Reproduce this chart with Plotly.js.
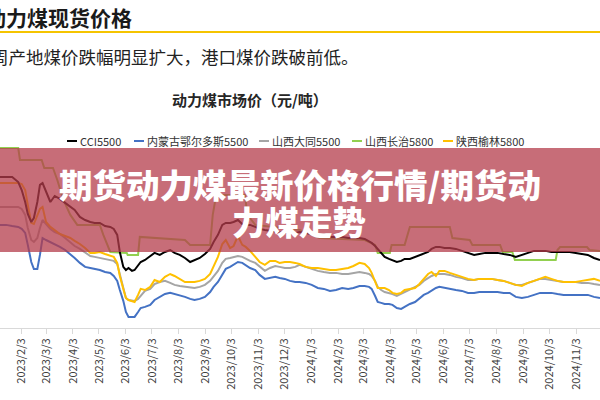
<!DOCTYPE html>
<html><head><meta charset="utf-8">
<script src="https://cdn.plot.ly/plotly-3.0.1.min.js"></script>
<style>html,body{margin:0;padding:0;background:#fff;} #chart{width:600px;height:400px;}</style>
</head><body><div id="chart"></div>
<script>
const seriesNames = ['CCI5500','内蒙古鄂尔多斯5500','山西大同5500','山西长治5800','陕西榆林5800'];
const seriesColors = ['#000000','#4472C4','#A5A5A5','#92D050','#FFC000'];

const dates = [
'2023-01-09','2023-01-16','2023-01-23','2023-01-30','2023-02-03','2023-02-07','2023-02-10','2023-02-14','2023-02-17','2023-02-21',
'2023-02-24','2023-02-27','2023-03-03','2023-03-08','2023-03-13','2023-03-19','2023-03-25','2023-03-31','2023-04-05','2023-04-11',
'2023-04-17','2023-04-23','2023-04-28','2023-05-04','2023-05-10','2023-05-16','2023-05-20','2023-05-24','2023-05-27','2023-05-31',
'2023-06-03','2023-06-06','2023-06-10','2023-06-13','2023-06-17','2023-06-20','2023-06-25','2023-07-01','2023-07-06','2023-07-12',
'2023-07-18','2023-07-24','2023-07-29','2023-08-04','2023-08-10','2023-08-16','2023-08-21','2023-08-27','2023-09-02','2023-09-08',
'2023-09-12','2023-09-17','2023-09-22','2023-09-26','2023-10-01','2023-10-05','2023-10-10','2023-10-15','2023-10-19','2023-10-24',
'2023-10-30','2023-11-04','2023-11-10','2023-11-16','2023-11-22','2023-11-27','2023-12-03','2023-12-09','2023-12-15','2023-12-20',
'2023-12-27','2024-01-03','2024-01-10','2024-01-17','2024-01-24','2024-01-31','2024-02-07','2024-02-14','2024-02-20','2024-02-27',
'2024-03-04','2024-03-09','2024-03-12','2024-03-16','2024-03-19','2024-03-23','2024-03-27','2024-04-01','2024-04-05','2024-04-10',
'2024-04-15','2024-04-19','2024-04-25','2024-05-01','2024-05-06','2024-05-11','2024-05-16','2024-05-20','2024-05-25','2024-05-29',
'2024-06-04','2024-06-10','2024-06-17','2024-06-24','2024-07-01','2024-07-08','2024-07-14','2024-07-21','2024-07-28','2024-08-04',
'2024-08-11','2024-08-18','2024-08-25','2024-09-01','2024-09-08','2024-09-15','2024-09-22','2024-09-28','2024-10-05','2024-10-12',
'2024-10-19','2024-10-26','2024-11-02','2024-11-09','2024-11-16','2024-11-23','2024-11-30'];

const cci5500 = [
1180,1180,1180,1157,1121,1067,1013,977,995,1067,
1144,1152,1112,1067,1094,1081,1063,1045,1031,1000,
986,977,973,973,959,955,946,919,842,775,
761,770,757,761,779,797,806,824,838,829,
842,851,838,829,815,797,806,815,833,856,
887,919,964,973,973,977,986,968,964,964,
955,946,941,937,932,932,928,928,928,932,
928,923,919,914,910,910,910,905,905,905,
901,892,883,869,856,838,820,811,806,797,
802,811,811,820,824,833,842,856,865,865,
860,860,856,847,838,829,833,838,838,838,
833,829,820,829,838,847,847,847,842,842,
842,842,838,833,829,815,806];

const ordos5500 = [
964,964,959,955,946,928,874,797,766,766,
829,905,896,887,878,865,851,833,815,793,
775,770,766,761,752,748,734,712,671,622,
572,550,550,550,572,590,595,604,626,640,
653,658,653,644,640,631,626,631,640,662,
685,707,743,766,775,784,797,793,784,770,
761,739,721,725,730,725,721,712,707,707,
703,694,680,676,667,671,680,676,680,689,
689,685,676,644,617,613,608,608,604,590,
586,595,608,617,635,649,658,667,680,685,
680,676,671,667,658,658,662,662,662,662,
658,658,640,635,640,649,658,658,658,653,
649,649,649,649,649,640,635];

const datong5500 = [
1045,1045,1045,1045,1036,1009,950,896,887,905,
950,986,968,946,932,923,905,887,869,856,
838,824,820,815,811,806,802,788,739,676,
635,626,622,622,631,644,667,676,698,707,
712,703,694,689,685,680,680,685,694,712,
730,757,793,811,815,820,824,820,811,802,
793,775,757,770,779,775,770,770,775,784,
775,766,757,752,748,748,743,743,748,752,
748,743,734,712,685,671,662,658,653,644,
653,662,671,685,694,712,725,734,743,743,
743,739,730,725,716,716,721,721,721,716,
712,703,694,694,703,712,721,721,716,712,
707,707,707,703,703,698,694];

const yulin5800 = [
1152,1152,1152,1152,1148,1121,1054,973,968,1009,
1036,1045,977,955,941,923,914,905,892,878,
860,838,838,842,833,824,820,793,734,676,
635,626,622,617,649,676,671,685,716,707,
730,743,734,721,707,707,707,712,721,743,
775,820,878,896,860,869,914,874,865,847,
820,797,784,802,802,793,797,797,793,788,
775,770,770,766,761,761,766,770,779,793,
788,770,748,707,680,680,680,671,658,653,
658,671,676,680,698,721,743,752,734,757,
757,748,739,730,721,716,721,721,721,716,
712,703,694,689,703,712,721,730,721,712,
707,707,707,712,716,721,712];

const changzhiDates = [
'2023-01-09','2023-01-30','2023-02-01','2023-02-26','2023-03-01','2023-03-11','2023-03-16','2023-03-23','2023-03-31','2023-04-08',
'2023-05-04','2023-05-08','2023-05-16','2023-06-04','2023-06-05','2023-06-17','2023-06-19','2023-08-10','2023-08-16','2023-09-08',
'2023-09-11','2023-09-15','2023-10-18','2023-10-21','2023-10-30','2023-12-20','2024-01-12','2024-03-04','2024-03-16','2024-03-19',
'2024-04-02','2024-04-04','2024-04-19','2024-04-23','2024-04-25','2024-06-10','2024-06-13','2024-07-03','2024-07-06','2024-08-07',
'2024-08-10','2024-08-21','2024-08-24','2024-10-10','2024-10-12','2024-10-15','2024-11-15','2024-11-18','2024-11-30'];
const changzhi5800 = [
1310,1310,1256,1256,1220,1220,1166,1076,1009,964,
964,919,842,838,829,829,910,896,874,874,
1009,1099,1099,1009,964,941,905,896,874,838,
838,874,874,932,955,955,905,896,874,874,
842,842,806,806,851,864,864,851,847];

const tickDates = ['2023-01-03','2023-02-03','2023-03-03','2023-04-03','2023-05-03','2023-06-03','2023-07-03','2023-08-03','2023-09-03','2023-10-03','2023-11-03','2023-12-03',
'2024-01-03','2024-02-03','2024-03-03','2024-04-03','2024-05-03','2024-06-03','2024-07-03','2024-08-03','2024-09-03','2024-10-03','2024-11-03','2024-12-03'];
const tickLabels = ['2023/1/3','2023/2/3','2023/3/3','2023/4/3','2023/5/3','2023/6/3','2023/7/3','2023/8/3','2023/9/3','2023/10/3','2023/11/3','2023/12/3',
'2024/1/3','2024/2/3','2024/3/3','2024/4/3','2024/5/3','2024/6/3','2024/7/3','2024/8/3','2024/9/3','2024/10/3','2024/11/3','2024/12/3'];

const pageTitle = '动力煤现货价格';
const pageNote = '周产地煤价跌幅明显扩大，港口煤价跌破前低。';
const chartTitle = '动力煤市场价（元/吨）';
const bannerLine1 = '期货动力煤最新价格行情/期货动';
const bannerLine2 = '力煤走势';

const CJK = '"Noto Sans CJK SC", "Noto Sans", sans-serif';
// layout helpers: pixel -> paper (plot area spans x 0..600, y 145..328)
const px = v => v / 600;
const py = v => (328 - v) / 183;

function line(x, y, idx) {
  return {type:'scatter', mode:'lines', x:x, y:y, name:seriesNames[idx],
    line:{color:seriesColors[idx], width:2}, hoverinfo:'skip'};
}
const traces = [
  line(changzhiDates, changzhi5800, 3),
  line(dates, datong5500, 2),
  line(dates, ordos5500, 1),
  line(dates, yulin5800, 4),
  line(dates, cci5500, 0)
];

const shapes = [
  {type:'line', xref:'paper', yref:'paper', x0:0, x1:1, y0:py(32), y1:py(32), line:{color:'#F5C400', width:2}}
];
const annotations = [
  {text:pageTitle, xref:'paper', yref:'paper', x:px(-17), y:py(17), xanchor:'left', yanchor:'middle', showarrow:false,
   font:{family:CJK, size:21, color:'#1a1a1a', weight:700}},
  {text:pageNote, xref:'paper', yref:'paper', x:px(-11.5), y:py(57), xanchor:'left', yanchor:'middle', showarrow:false,
   font:{family:CJK, size:17.5, color:'#222222'}},
  {text:chartTitle, xref:'paper', yref:'paper', x:px(250), y:py(99), xanchor:'center', yanchor:'middle', showarrow:false,
   font:{family:CJK, size:15, color:'#262626', weight:700}}
];
const legendX = [67, 134, 259, 352, 443];
seriesNames.forEach((n, i) => {
  shapes.push({type:'line', xref:'paper', yref:'paper', x0:px(legendX[i]), x1:px(legendX[i]+10), y0:py(141), y1:py(141),
    line:{color:seriesColors[i], width:2}});
  annotations.push({text:n, xref:'paper', yref:'paper', x:px(legendX[i]+11), y:py(141), xanchor:'left', yanchor:'middle',
    showarrow:false, font:{family:CJK, size:11, color:'#333333'}});
});
// semi-transparent banner over the chart, with its two lines of text
shapes.push({type:'rect', xref:'paper', yref:'paper', x0:0, x1:1, y0:py(252), y1:py(148),
  fillcolor:'rgba(180,60,75,0.75)', line:{width:0}, layer:'above'});
annotations.push(
  {text:bannerLine1, xref:'paper', yref:'paper', x:px(300), y:py(183), xanchor:'center', yanchor:'middle', showarrow:false,
   font:{family:CJK, size:33.5, color:'#ffffff', weight:900}},
  {text:bannerLine2, xref:'paper', yref:'paper', x:px(299), y:py(220), xanchor:'center', yanchor:'middle', showarrow:false,
   font:{family:CJK, size:33.5, color:'#ffffff', weight:900}}
);

const layout = {
  width:600, height:400, margin:{l:0, r:0, t:145, b:72},
  paper_bgcolor:'#ffffff', plot_bgcolor:'#ffffff', showlegend:false,
  font:{family:CJK},
  xaxis:{type:'date', range:['2023-01-09','2024-11-30'], tickmode:'array', tickvals:tickDates, ticktext:tickLabels,
    tickangle:-90, tickfont:{family:CJK, size:11, color:'#404040'}, showgrid:false, zeroline:false,
    showline:true, linecolor:'#d9d9d9', linewidth:1, ticks:'outside', ticklen:5, tickcolor:'#d9d9d9'},
  yaxis:{range:[500,1323.5], visible:false, showgrid:false, zeroline:false},
  shapes:shapes, annotations:annotations
};
Plotly.newPlot('chart', traces, layout, {staticPlot:true, displayModeBar:false});
</script></body></html>
